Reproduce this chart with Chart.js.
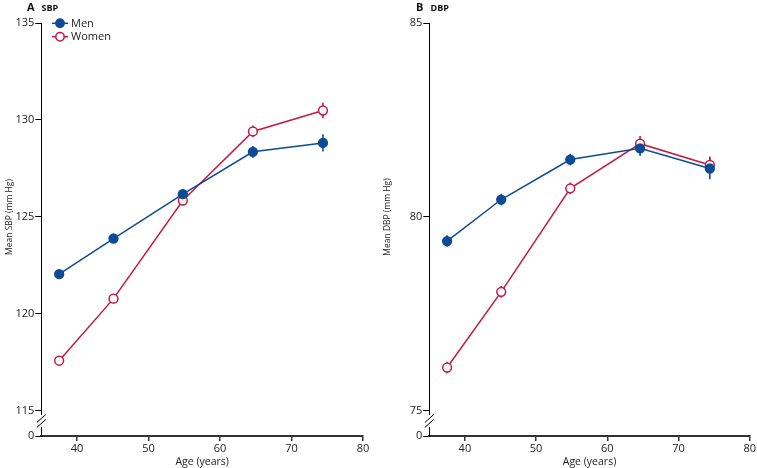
<!DOCTYPE html>
<html>
<head>
<meta charset="utf-8">
<script src="https://cdn.jsdelivr.net/npm/chart.js@4/dist/chart.umd.min.js"></script>
<style>
  html, body { margin: 0; padding: 0; background: #fff; }
  .panel { position: absolute; top: 0; height: 468px; }
  #wrapA { left: 0; width: 378px; }
  #wrapB { left: 378px; width: 379px; }
</style>
</head>
<body>
<div class="panel" id="wrapA"><canvas id="sbpChart"></canvas></div>
<div class="panel" id="wrapB"><canvas id="dbpChart"></canvas></div>
<script>
// age group midpoints (years)
const ages = [37.5, 45.1, 54.8, 64.6, 74.4];
const ageTicks = [40, 50, 60, 70, 80];

// panel A - systolic
const sbpMen = [122.05, 123.89, 126.18, 128.36, 128.82];
const sbpMenErr = [0.2, 0.15, 0.2, 0.3, 0.45];
const sbpWomen = [117.59, 120.79, 125.85, 129.41, 130.49];
const sbpWomenErr = [0.15, 0.15, 0.2, 0.3, 0.4];
const sbpTicks = [115, 120, 125, 130, 135];

// panel B - diastolic
const dbpMen = [79.38, 80.45, 81.48, 81.77, 81.25];
const dbpMenErr = [0.15, 0.15, 0.15, 0.2, 0.28];
const dbpWomen = [76.12, 78.07, 80.74, 81.89, 81.34];
const dbpWomenErr = [0.15, 0.15, 0.15, 0.2, 0.22];
const dbpTicks = [75, 80, 85];

const BLUE = '#0b4c97';
const RED = '#c41a3f';
const FONT = "'Open Sans', 'DejaVu Sans', sans-serif";

function pts(ys) {
  return ages.map((a, i) => ({ x: a, y: ys[i] }));
}

// vertical CI bars behind the markers
const errorBars = {
  id: 'errorBars',
  beforeDatasetsDraw(chart) {
    const c = chart.ctx, xs = chart.scales.x, ys = chart.scales.y;
    chart.data.datasets.forEach(ds => {
      c.save();
      c.strokeStyle = ds.borderColor;
      c.lineWidth = 1.6;
      ds.data.forEach((p, i) => {
        const e = ds.errors[i];
        const px = xs.getPixelForValue(p.x);
        c.beginPath();
        c.moveTo(px, ys.getPixelForValue(p.y - e));
        c.lineTo(px, ys.getPixelForValue(p.y + e));
        c.stroke();
      });
      c.restore();
    });
  }
};

// broken y axis, panel heading, y title, legend
const decor = {
  id: 'decor',
  afterDraw(chart, args, opts) {
    const c = chart.ctx, ys = chart.scales.y, area = chart.chartArea;
    const ax = area.left;
    const yLow = ys.getPixelForValue(opts.lowTick);
    c.save();
    // gap in the axis line
    c.fillStyle = '#fff';
    c.fillRect(ax - 2, yLow + 4, 4, 12);
    c.strokeStyle = '#000';
    c.lineWidth = 1;
    [7.5, 12.5].forEach(d => {
      c.beginPath();
      c.moveTo(ax - 4.5, yLow + d + 4);
      c.lineTo(ax + 4.5, yLow + d - 4);
      c.stroke();
    });
    // heading
    c.fillStyle = '#111';
    c.textBaseline = 'alphabetic';
    c.textAlign = 'left';
    c.font = 'bold 11px ' + FONT;
    c.fillText(opts.letter, opts.headX, 11);
    c.font = 'bold 9px ' + FONT;
    c.fillText(opts.heading, opts.headX + 14.5, 11);
    // y axis title, centred on the unbroken part
    const mid = (area.top + yLow) / 2;
    c.translate(10, mid);
    c.rotate(-Math.PI / 2);
    c.textAlign = 'center';
    c.textBaseline = 'middle';
    c.font = '8.5px ' + FONT;
    c.fillStyle = '#222';
    c.fillText(opts.yTitle, 0, 0);
    c.restore();

    if (opts.legend) {
      chart.data.datasets.forEach((ds, i) => {
        const y = 23.3 + i * 13.4;
        c.save();
        c.strokeStyle = ds.borderColor;
        c.lineWidth = 1.5;
        c.beginPath();
        c.moveTo(52, y);
        c.lineTo(68, y);
        c.stroke();
        c.beginPath();
        c.arc(60, y, 4.2, 0, Math.PI * 2);
        c.fillStyle = ds.pointBackgroundColor;
        c.fill();
        c.stroke();
        c.fillStyle = '#222';
        c.font = '11px ' + FONT;
        c.textBaseline = 'middle';
        c.fillText(ds.label, 71, y + 0.5);
        c.restore();
      });
    }
  }
};

function makeChart(el, cfg) {
  const yMin = cfg.ticks[0] - cfg.breakUnits;
  return new Chart(document.getElementById(el), {
    type: 'line',
    data: {
      datasets: [
        {
          label: 'Men', data: pts(cfg.men), errors: cfg.menErr,
          borderColor: BLUE, backgroundColor: BLUE,
          pointBackgroundColor: BLUE, pointBorderColor: BLUE,
          pointRadius: 4.4, pointBorderWidth: 1.5, borderWidth: 1.5
        },
        {
          label: 'Women', data: pts(cfg.women), errors: cfg.womenErr,
          borderColor: RED, backgroundColor: '#fff',
          pointBackgroundColor: '#fff', pointBorderColor: RED,
          pointRadius: 4.4, pointBorderWidth: 1.5, borderWidth: 1.5
        }
      ]
    },
    options: {
      responsive: true,
      maintainAspectRatio: false,
      animation: false,
      layout: { padding: { top: 23, right: cfg.padRight, bottom: 0, left: 0 } },
      plugins: {
        legend: { display: false },
        tooltip: { enabled: false },
        decor: {
          letter: cfg.letter, heading: cfg.heading, headX: cfg.headX,
          yTitle: cfg.yTitle, lowTick: cfg.ticks[0], legend: cfg.legend
        }
      },
      scales: {
        x: {
          type: 'linear', min: 35, max: 80,
          afterBuildTicks: s => { s.ticks = ageTicks.map(v => ({ value: v })); },
          afterFit: s => { s.height = 32; },
          grid: { drawOnChartArea: false, tickLength: 5, color: '#333', lineWidth: 1.5 },
          border: { color: '#333', width: 2 },
          ticks: { color: '#222', font: { family: FONT, size: 11 }, padding: 1, maxRotation: 0 },
          title: { display: true, text: 'Age (years)', color: '#222',
                   font: { family: FONT, size: 10.5 }, padding: { top: 4, bottom: 0 } }
        },
        y: {
          type: 'linear', min: yMin, max: cfg.ticks[cfg.ticks.length - 1],
          afterBuildTicks: s => {
            s.ticks = [{ value: yMin }].concat(cfg.ticks.map(v => ({ value: v })));
          },
          afterFit: s => { s.width = cfg.axisW; },
          grid: { drawOnChartArea: false, tickLength: 6, color: '#000' },
          border: { color: '#000', width: 1 },
          ticks: {
            color: '#222', font: { family: FONT, size: 11 }, padding: 1,
            callback: v => (Math.abs(v - yMin) < 1e-6 ? '0' : v)
          }
        }
      }
    },
    plugins: [errorBars, decor]
  });
}

makeChart('sbpChart', {
  men: sbpMen, menErr: sbpMenErr, women: sbpWomen, womenErr: sbpWomenErr,
  ticks: sbpTicks, breakUnits: 1.29, axisW: 41.3, padRight: 15,
  letter: 'A', heading: 'SBP', headX: 27, yTitle: 'Mean SBP (mm Hg)', legend: true
});

makeChart('dbpChart', {
  men: dbpMen, menErr: dbpMenErr, women: dbpWomen, womenErr: dbpWomenErr,
  ticks: dbpTicks, breakUnits: 0.645, axisW: 51.3, padRight: 6,
  letter: 'B', heading: 'DBP', headX: 38, yTitle: 'Mean DBP (mm Hg)', legend: false
});
</script>
</body>
</html>
